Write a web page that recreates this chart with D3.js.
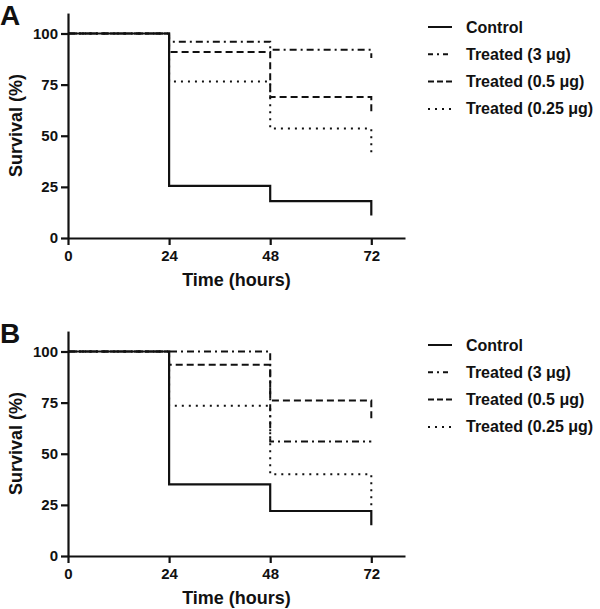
<!DOCTYPE html>
<html>
<head>
<meta charset="utf-8">
<script src="https://cdn.jsdelivr.net/npm/d3@7"></script>
<style>
  html, body { margin: 0; padding: 0; background: #fff; }
  svg text { font-family: "Liberation Sans", Arial, sans-serif; font-weight: bold; fill: #111; }
</style>
</head>
<body>
<svg id="chart" width="600" height="609"></svg>
<script>
// ---- data ----
const timePoints = [0, 24, 48, 72];
const xTicks = [0, 24, 48, 72];
const yTicks = [0, 25, 50, 75, 100];
const seriesNames = ["Control", "Treated (3 \u03bcg)", "Treated (0.5 \u03bcg)", "Treated (0.25 \u03bcg)"];
// survival values (%) at each time point (step after), last = value reached at 72 h
const aControl = [100, 25.5, 18, 11];
const aTreated3 = [100, 96, 92, 88];
const aTreated05 = [100, 91, 69, 60];
const aTreated025 = [100, 76.5, 53.5, 40];
const bControl = [100, 35, 22, 15];
const bTreated3 = [100, 100, 56, 56];
const bTreated05 = [100, 93.5, 76, 67];
const bTreated025 = [100, 73.5, 40, 24];
const panelLabels = ["A", "B"];

// ---- styles ----
const dashes = [null, "7,4,2,4", "7,4", "2,5"];

const svg = d3.select("#chart");

function drawPanel(label, seriesList, axisY, legendTop) {
  const left = 68, right = 405;
  const pxPerUnit = 2.045;
  const top = axisY - 110 * pxPerUnit;
  const x = d3.scaleLinear().domain([0, 80]).range([left, right]);
  const y = d3.scaleLinear().domain([0, 110]).range([axisY, top]);
  const g = svg.append("g");

  const line = d3.line().x(d => x(d[0])).y(d => y(d[1])).curve(d3.curveStepAfter);
  // treated series first, control on top
  const order = [1, 2, 3, 0];
  order.forEach(i => {
    const vals = seriesList[i];
    const pts = timePoints.map((t, k) => [t, vals[k]]);
    const p = g.append("path")
      .datum(pts)
      .attr("d", line)
      .attr("fill", "none")
      .attr("stroke", "#111")
      .attr("stroke-width", i === 0 ? 2.2 : 2);
    if (dashes[i]) p.attr("stroke-dasharray", dashes[i]);
  });

  // axes
  const xAxis = d3.axisBottom(x).tickValues(xTicks).tickSize(7).tickPadding(5).tickSizeOuter(0);
  const yAxis = d3.axisLeft(y).tickValues(yTicks).tickSize(7).tickPadding(3).tickSizeOuter(0);
  const gx = g.append("g").attr("transform", `translate(0,${axisY})`).call(xAxis);
  const gy = g.append("g").attr("transform", `translate(${left},0)`).call(yAxis);
  [gx, gy].forEach(a => {
    a.select(".domain").attr("stroke", "#111").attr("stroke-width", 2.2);
    a.selectAll(".tick line").attr("stroke", "#111").attr("stroke-width", 2.2);
    a.selectAll(".tick text").attr("font-size", 15).attr("fill", "#111")
      .style("font-family", "'Liberation Sans', Arial, sans-serif").style("font-weight", "bold");
  });

  // axis titles
  g.append("text").attr("x", (left + right) / 2).attr("y", axisY + 48)
    .attr("text-anchor", "middle").attr("font-size", 18).text("Time (hours)");
  g.append("text")
    .attr("transform", `translate(22,${(axisY + top) / 2}) rotate(-90)`)
    .attr("text-anchor", "middle").attr("font-size", 18).text("Survival (%)");

  // panel label
  g.append("text").attr("x", 0).attr("y", axisY - 213).attr("font-size", 28).text(label);

  // legend
  const rowGap = 27.3;
  seriesNames.forEach((name, i) => {
    const cy = legendTop + i * rowGap;
    const l = g.append("line").attr("x1", 428).attr("x2", 452).attr("y1", cy).attr("y2", cy)
      .attr("stroke", "#111").attr("stroke-width", 2);
    if (dashes[i]) l.attr("stroke-dasharray", i === 1 ? "5,4,2,4" : (i === 2 ? "6,3" : "2,5"));
    g.append("text").attr("x", 466).attr("y", cy + 5.5).attr("font-size", 16).text(name);
  });
}

drawPanel(panelLabels[0], [aControl, aTreated3, aTreated05, aTreated025], 238, 27);
drawPanel(panelLabels[1], [bControl, bTreated3, bTreated05, bTreated025], 556, 345);
</script>
</body>
</html>
